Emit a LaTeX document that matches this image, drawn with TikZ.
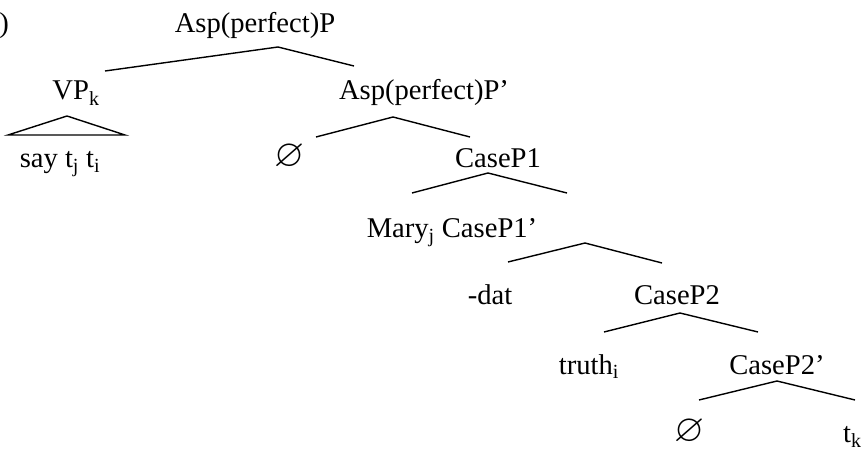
\documentclass[tikz,border=0pt]{standalone}
\usepackage{amssymb}
\usepackage{graphicx}
\usepackage{fontspec}
\setmainfont{Liberation Serif}
\newcommand{\idx}[1]{\textsubscript{#1}}
\newcommand{\nul}{\scalebox{1.35}{$\varnothing$}}

\begin{document}
\begin{tikzpicture}[x=1pt,y=-1pt]
	\tikzstyle{every node}+=[inner sep=0pt, font=\fontsize{28.6}{34}\selectfont]
	\tikzstyle{branch}=[black, line width=1.4pt]
	\useasboundingbox (0,0) rectangle (863,449);
	% labels
	\node [anchor=base east] (num) at (9,33) {)};
	\node [anchor=base] (aspP) at (255,33) {Asp(perfect)P};
	\node [anchor=base] (vp) at (76,100) {VP\idx{k}};
	\node [anchor=base] (say) at (60,168) {say t\idx{j} t\idx{i}};
	\node [anchor=base] (aspP1) at (424,100) {Asp(perfect)P’};
	\node [anchor=base] (asp) at (290,167) {\nul};
	\node [anchor=base] (caseP1) at (498,168) {CaseP1};
	\node [anchor=base] (mary) at (452,238) {Mary\idx{j} CaseP1’};
	\node [anchor=base] (dat) at (490,305) {-dat};
	\node [anchor=base] (caseP2) at (677,305) {CaseP2};
	\node [anchor=base] (truth) at (589,374) {truth\idx{i}};
	\node [anchor=base] (caseP2b) at (777,374) {CaseP2’};
	\node [anchor=base] (case) at (690,441) {\nul};
	\node [anchor=base west] (tk) at (843,442) {t\idx{k}};
	% branch points
	\coordinate (aspP-top) at (278,47);
	\coordinate (aspP-l) at (105,71);
	\coordinate (aspP-r) at (354,66);
	\coordinate (vp-top) at (67,116);
	\coordinate (vp-l) at (8,135);
	\coordinate (vp-r) at (125,135);
	\coordinate (aspP1-top) at (393,117);
	\coordinate (aspP1-l) at (316,137);
	\coordinate (aspP1-r) at (470,137);
	\coordinate (caseP1-top) at (488,173);
	\coordinate (caseP1-l) at (412,193);
	\coordinate (caseP1-r) at (567,193);
	\coordinate (mary-top) at (585,243);
	\coordinate (mary-l) at (508,262);
	\coordinate (mary-r) at (662,263);
	\coordinate (caseP2-top) at (680,313);
	\coordinate (caseP2-l) at (604,332);
	\coordinate (caseP2-r) at (758,332);
	\coordinate (caseP2b-top) at (777,381);
	\coordinate (caseP2b-l) at (699,400);
	\coordinate (caseP2b-r) at (855,400);
	% branches
	\draw [branch] (aspP-l) -- (aspP-top) -- (aspP-r);
	\draw [branch] (vp-l) -- (vp-top) -- (vp-r) -- cycle;
	\draw [branch] (aspP1-l) -- (aspP1-top) -- (aspP1-r);
	\draw [branch] (caseP1-l) -- (caseP1-top) -- (caseP1-r);
	\draw [branch] (mary-l) -- (mary-top) -- (mary-r);
	\draw [branch] (caseP2-l) -- (caseP2-top) -- (caseP2-r);
	\draw [branch] (caseP2b-l) -- (caseP2b-top) -- (caseP2b-r);
\end{tikzpicture}
\end{document}
